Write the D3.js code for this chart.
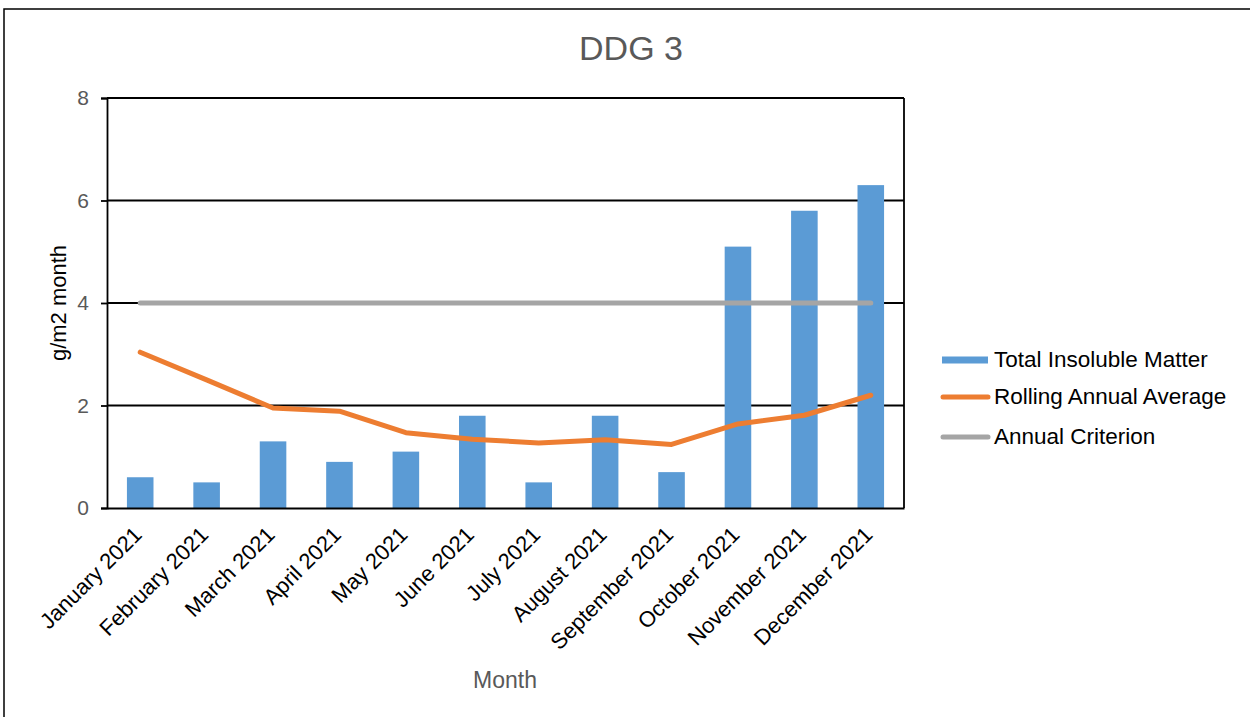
<!DOCTYPE html>
<html><head><meta charset="utf-8">
<script src="https://cdn.jsdelivr.net/npm/d3@7"></script>
<style>body{margin:0;background:#fff}svg{display:block;font-family:"Liberation Sans",Arial,sans-serif}</style>
</head><body><svg id="c" width="1250" height="717"></svg>
<script>
const months = ["January 2021","February 2021","March 2021","April 2021","May 2021","June 2021","July 2021","August 2021","September 2021","October 2021","November 2021","December 2021"];
const insoluble = [0.6,0.5,1.3,0.9,1.1,1.8,0.5,1.8,0.7,5.1,5.8,6.3];
const rolling = [3.04,2.5,1.95,1.89,1.47,1.34,1.27,1.33,1.24,1.64,1.81,2.2];
const criterion = [4,4,4,4,4,4,4,4,4,4,4,4];
const yTicks = [0,2,4,6,8];
const seriesNames = ["Total Insoluble Matter","Rolling Annual Average","Annual Criterion"];
const colors = ["#5B9BD5","#ED7D31","#A5A5A5"];

const svg = d3.select("#c");
svg.append("rect").attr("x",4).attr("y",9).attr("width",1270).attr("height",730)
  .attr("fill","#fff").attr("stroke","#000").attr("stroke-width",1.5);

const L=107,R=904,T=98,B=508;
const x = d3.scaleBand().domain(months).range([L,R]).paddingInner(0).paddingOuter(0);
const y = d3.scaleLinear().domain([0,8]).range([B,T]);
const bw = x.bandwidth()/2.5;

// gridlines
svg.append("g").selectAll("line").data(yTicks.filter(d=>d>0)).join("line")
  .attr("x1",L).attr("x2",R).attr("y1",d=>y(d)).attr("y2",d=>y(d))
  .attr("stroke","#000").attr("stroke-width",1.8);
// right border
svg.append("line").attr("x1",R).attr("x2",R).attr("y1",T).attr("y2",B).attr("stroke","#000").attr("stroke-width",1.8);

// bars
svg.append("g").selectAll("rect").data(insoluble).join("rect")
  .attr("x",(d,i)=>x(months[i])+x.bandwidth()/2-bw/2).attr("width",bw)
  .attr("y",d=>y(d)).attr("height",d=>B-y(d)).attr("fill",colors[0]);

const line = d3.line().x((d,i)=>x(months[i])+x.bandwidth()/2).y(d=>y(d));
svg.append("path").datum(criterion).attr("d",line).attr("fill","none")
  .attr("stroke",colors[2]).attr("stroke-width",5).attr("stroke-linecap","round");
svg.append("path").datum(rolling).attr("d",line).attr("fill","none")
  .attr("stroke",colors[1]).attr("stroke-width",5).attr("stroke-linecap","round").attr("stroke-linejoin","round");

// y axis
const ya = svg.append("g").attr("transform",`translate(${L},0)`)
  .call(d3.axisLeft(y).tickValues(yTicks).tickSize(6).tickPadding(12).tickFormat(d3.format("d")));
ya.select(".domain").attr("stroke","#000").attr("stroke-width",1.8);
ya.selectAll(".tick line").attr("stroke","#000").attr("stroke-width",1.8);
ya.selectAll("text").attr("font-size",21).attr("fill","#595959").attr("font-family","Liberation Sans, Arial, sans-serif");

// x axis
const xa = svg.append("g").attr("transform",`translate(0,${B})`)
  .call(d3.axisBottom(x).tickSize(0).tickPadding(0));
xa.select(".domain").attr("stroke","#000").attr("stroke-width",1.8);
xa.selectAll("text").attr("font-size",22).attr("fill","#000").attr("font-family","Liberation Sans, Arial, sans-serif")
  .attr("text-anchor","end").attr("dy",null).attr("y",0)
  .attr("transform","translate(3,28) rotate(-45)");

// title
svg.append("text").attr("x",631).attr("y",60).attr("text-anchor","middle")
  .attr("font-size",34).attr("fill","#595959").text("DDG 3");
// y label
svg.append("text").attr("transform","translate(66,303) rotate(-90)").attr("text-anchor","middle")
  .attr("font-size",22).attr("fill","#000").text("g/m2 month");
// x label
svg.append("text").attr("x",505).attr("y",688).attr("text-anchor","middle")
  .attr("font-size",23).attr("fill","#595959").text("Month");

// legend
const lg = svg.append("g");
const legY = [360,397,437];
seriesNames.forEach((n,i)=>{
  const yy = legY[i];
  if(i===0) lg.append("rect").attr("x",942).attr("y",yy-3.5).attr("width",46).attr("height",7).attr("fill",colors[0]);
  else lg.append("line").attr("x1",943).attr("x2",988).attr("y1",yy).attr("y2",yy)
    .attr("stroke",colors[i]).attr("stroke-width",5).attr("stroke-linecap","round");
  lg.append("text").attr("x",994).attr("y",yy+7).attr("font-size",22.5).attr("fill","#000").text(n);
});
</script></body></html>
